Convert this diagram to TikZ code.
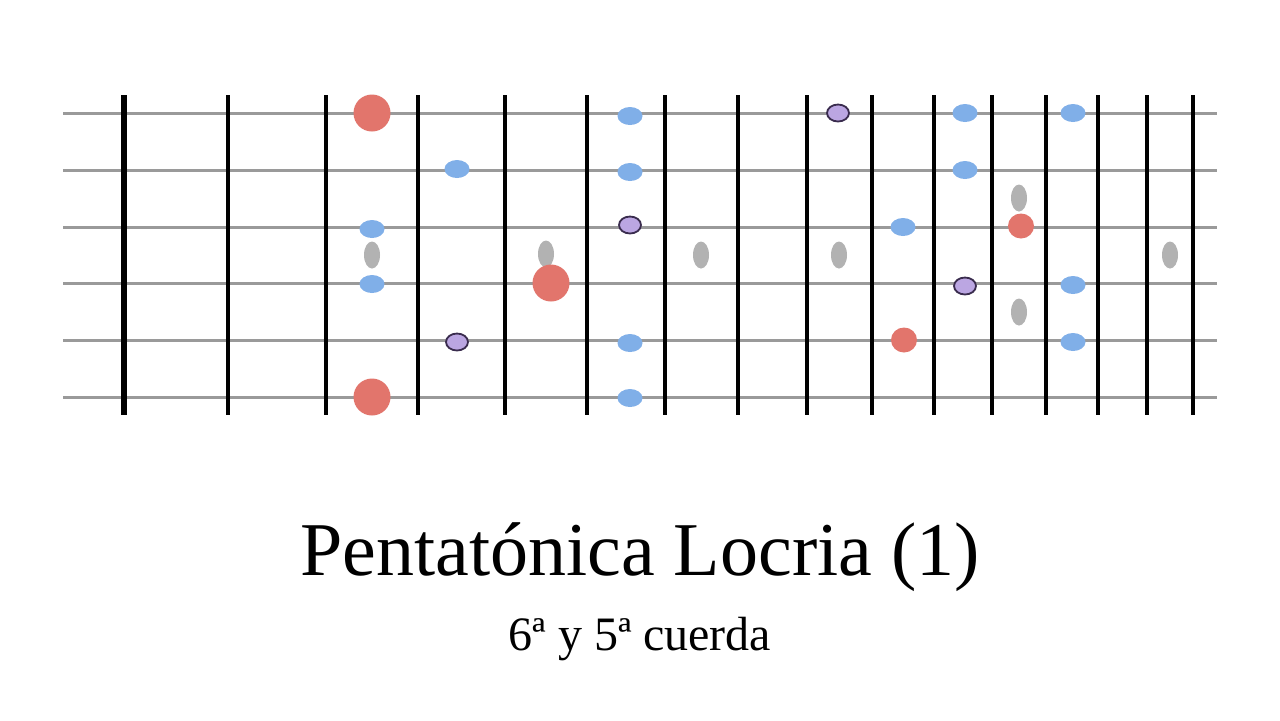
\documentclass[tikz,border=0pt]{standalone}
\usepackage{fontspec}
\setmainfont{Liberation Serif}
\usetikzlibrary{shapes.geometric}
\definecolor{strcol}{HTML}{9A9A9A}
\definecolor{redcol}{HTML}{E2756C}
\definecolor{bluecol}{HTML}{80AFE8}
\definecolor{purpcol}{HTML}{BBA6E2}
\definecolor{purpedge}{HTML}{3A2C4E}
\definecolor{graycol}{HTML}{B2B2B2}
\tikzset{
  stringline/.style={strcol, line width=1.5pt},
  fretline/.style={black, line width=1.6pt},
  nutline/.style={black, line width=2.6pt},
  bigroot/.style={circle, fill=redcol, minimum size=18.5pt, inner sep=0pt},
  smallroot/.style={ellipse, fill=redcol, minimum width=13pt, minimum height=12.5pt, inner sep=0pt},
  bluedot/.style={ellipse, fill=bluecol, minimum width=12.5pt, minimum height=9pt, inner sep=0pt},
  purpdot/.style={ellipse, fill=purpcol, draw=purpedge, line width=0.9pt, minimum width=11pt, minimum height=8.5pt, inner sep=0pt},
  graydot/.style={ellipse, fill=graycol, minimum width=8pt, minimum height=13.5pt, inner sep=0pt},
}
\begin{document}
\begin{tikzpicture}[x=0.5pt, y=-0.5pt]
\useasboundingbox[fill=white] (0,0) rectangle (1280,720);
% strings
\foreach \y [count=\i] in {113,170,227,283,340,397} {
  \coordinate (sL\i) at (63,\y);
  \coordinate (sR\i) at (1217,\y);
  \draw[stringline] (sL\i) -- (sR\i);
}
% frets
\coordinate (nT) at (124,95); \coordinate (nB) at (124,415);
\draw[nutline] (nT) -- (nB);
\foreach \x [count=\i] in {228,326,418,505,587,665,738,807,872,934,992,1046,1098,1147,1193} {
  \coordinate (fT\i) at (\x,95);
  \coordinate (fB\i) at (\x,415);
  \draw[fretline] (fT\i) -- (fB\i);
}
% gray markers
\node[graydot] (g1) at (372,255) {};
\node[graydot] (g2) at (546,254) {};
\node[graydot] (g3) at (701,255) {};
\node[graydot] (g4) at (839,255) {};
\node[graydot] (g5) at (1019,198) {};
\node[graydot] (g6) at (1019,312) {};
\node[graydot] (g7) at (1170,255) {};
% roots
\node[bigroot] (r1) at (372,113) {};
\node[bigroot] (r2) at (372,397) {};
\node[bigroot] (r3) at (551,283) {};
\node[smallroot] (r4) at (1021,226) {};
\node[smallroot] (r5) at (904,340) {};
% blue notes
\node[bluedot] (b1) at (372,229) {};
\node[bluedot] (b2) at (372,284) {};
\node[bluedot] (b3) at (457,169) {};
\node[bluedot] (b4) at (630,116) {};
\node[bluedot] (b5) at (630,172) {};
\node[bluedot] (b6) at (630,343) {};
\node[bluedot] (b7) at (630,398) {};
\node[bluedot] (b8) at (965,113) {};
\node[bluedot] (b9) at (965,170) {};
\node[bluedot] (b10) at (903,227) {};
\node[bluedot] (b11) at (1073,113) {};
\node[bluedot] (b12) at (1073,285) {};
\node[bluedot] (b13) at (1073,342) {};
% purple notes
\node[purpdot] (p1) at (457,342) {};
\node[purpdot] (p2) at (630,225) {};
\node[purpdot] (p3) at (838,113) {};
\node[purpdot] (p4) at (965,286) {};
% texts
\node[anchor=base, inner sep=0pt, font=\fontsize{38pt}{44pt}\selectfont] (title) at (640,575) {Pentatónica Locria (1)};
\node[anchor=base, inner sep=0pt, font=\fontsize{24pt}{28pt}\selectfont] (sub) at (640,650) {6ª y 5ª cuerda};
\end{tikzpicture}
\end{document}
